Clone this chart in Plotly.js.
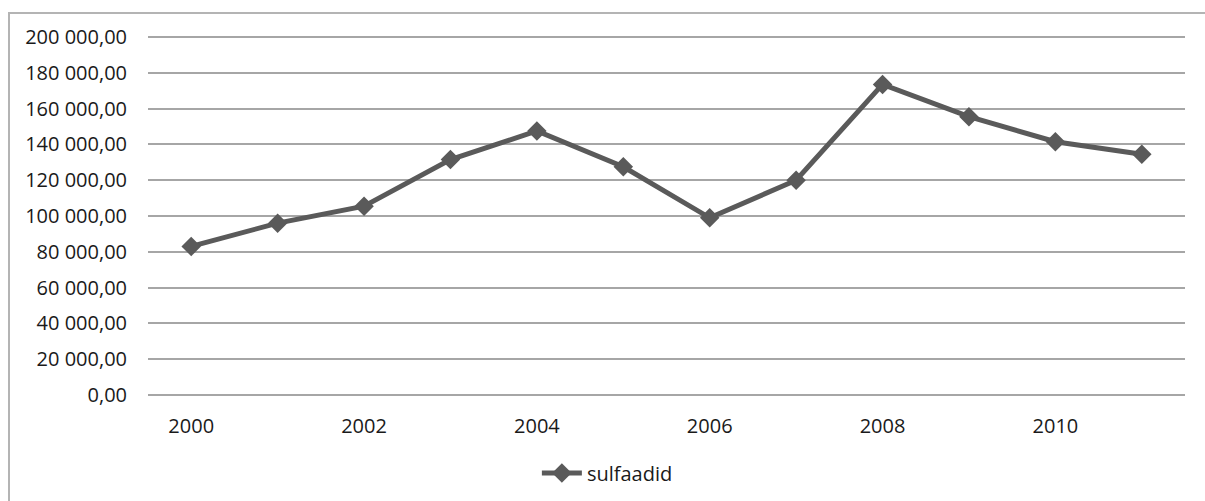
<!DOCTYPE html>
<html>
<head>
<meta charset="utf-8">
<script src="https://cdn.plot.ly/plotly-3.0.1.min.js"></script>
<style>
  html, body { margin: 0; padding: 0; background: #fff; }
  #wrap { position: relative; width: 1205px; height: 501px; overflow: hidden; }
  #chart { position: absolute; left: 0; top: 0; width: 1205px; height: 501px; }
  #frame { position: absolute; left: 8px; top: 12px; width: 1210px; height: 500px;
           border-left: 2px solid #b4b4b4; border-top: 2px solid #b4b4b4; pointer-events: none; }
</style>
</head>
<body>
<div id="wrap">
  <div id="chart"></div>
  <div id="frame"></div>
</div>
<script>
const years = ['2000','2001','2002','2003','2004','2005','2006','2007','2008','2009','2010','2011'];
const sulfaadid = [83000, 96000, 105500, 131500, 147500, 127500, 99000, 120000, 173500, 155500, 141500, 134500];
const xTickVals = ['2000','2002','2004','2006','2008','2010'];
const yTickVals = [0, 20000, 40000, 60000, 80000, 100000, 120000, 140000, 160000, 180000, 200000];
const yTickText = ['0,00','20 000,00','40 000,00','60 000,00','80 000,00','100 000,00','120 000,00','140 000,00','160 000,00','180 000,00','200 000,00'];
const seriesName = 'sulfaadid';

const font = { family: '"Open Sans", "Noto Sans", sans-serif', size: 20, color: '#1a1a1a' };

Plotly.newPlot('chart', [{
  x: years,
  y: sulfaadid,
  name: seriesName,
  type: 'scatter',
  mode: 'lines+markers',
  line: { color: '#5a5a5a', width: 5 },
  marker: { symbol: 'diamond', size: 15, color: '#5a5a5a' },
  showlegend: true
}], {
  width: 1205,
  height: 501,
  margin: { l: 148, r: 20, t: 35, b: 104, autoexpand: false },
  paper_bgcolor: '#ffffff',
  plot_bgcolor: '#ffffff',
  font: font,
  showlegend: true,
  legend: {
    orientation: 'h', x: 0.375, xanchor: 'left', y: -0.21, yanchor: 'middle',
    font: font, itemwidth: 40
  },
  xaxis: {
    type: 'category',
    tickmode: 'array',
    tickvals: xTickVals,
    ticktext: xTickVals,
    range: [-0.5, 11.5],
    showgrid: false,
    zeroline: false,
    showline: false,
    ticks: '',
    ticklabelstandoff: 15,
    tickfont: font
  },
  yaxis: {
    range: [-1100, 201100],
    tickmode: 'array',
    tickvals: yTickVals,
    ticktext: yTickText,
    showgrid: true,
    gridcolor: '#a6a6a6',
    gridwidth: 2,
    zeroline: false,
    showline: false,
    ticks: '',
    ticklabelstandoff: 20,
    tickfont: font
  }
}, { displayModeBar: false, staticPlot: true });
</script>
</body>
</html>
